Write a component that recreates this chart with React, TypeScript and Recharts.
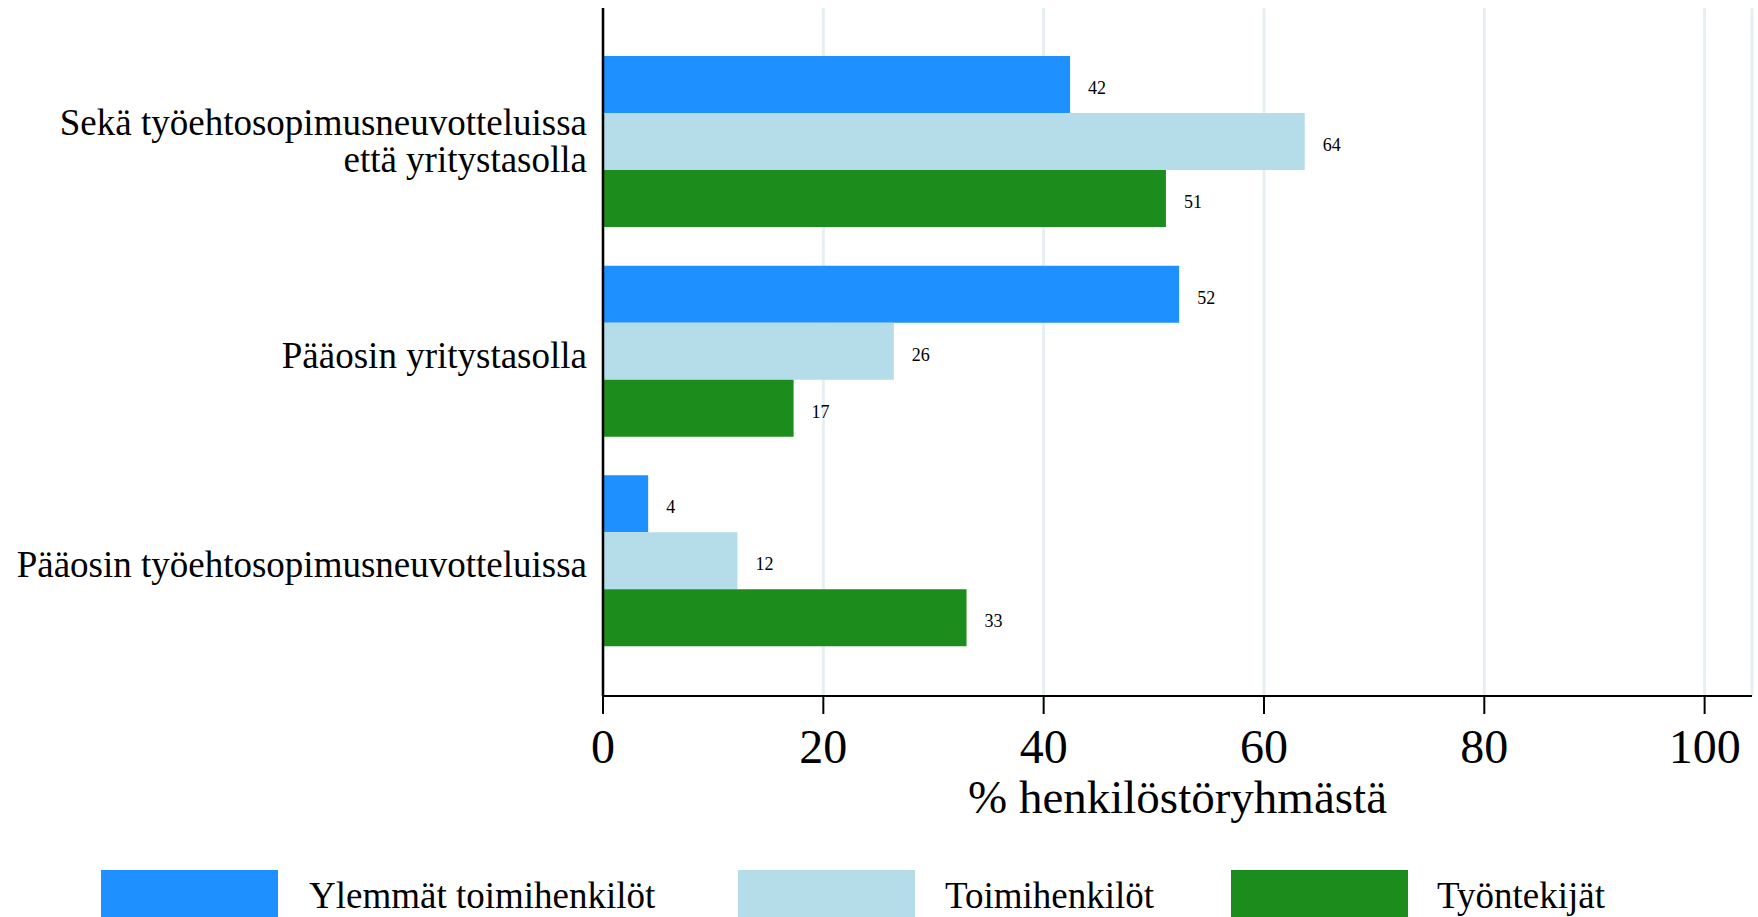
import React from "react";
import {
  BarChart,
  Bar,
  XAxis,
  YAxis,
  CartesianGrid,
  LabelList,
  Label,
} from "recharts";

const categories = [
  "Sekä työehtosopimusneuvotteluissa\nettä yritystasolla",
  "Pääosin yritystasolla",
  "Pääosin työehtosopimusneuvotteluissa",
];
const ylemmat = [42.4, 52.3, 4.1];
const toimihenkilot = [63.7, 26.4, 12.2];
const tyontekijat = [51.1, 17.3, 33.0];
const xTicks = [0, 20, 40, 60, 80, 100];
const axisTitle = "% henkilöstöryhmästä";

const series = [
  { key: "ylemmat", name: "Ylemmät toimihenkilöt", color: "#1e90ff" },
  { key: "toimihenkilot", name: "Toimihenkilöt", color: "#b5dce9" },
  { key: "tyontekijat", name: "Työntekijät", color: "#1c8c1c" },
];

const data = categories.map((name, i) => ({
  name,
  ylemmat: ylemmat[i],
  toimihenkilot: toimihenkilot[i],
  tyontekijat: tyontekijat[i],
}));

const FONT = '"Liberation Serif", "Times New Roman", serif';

function CategoryTick(props: any) {
  const { x, y, payload } = props;
  const lines = String(payload.value).split("\n");
  const lh = 37;
  const base = lines.length > 1 ? 12 : 16;
  const first = y + base - ((lines.length - 1) * lh) / 2;
  return (
    <text x={x} y={first} textAnchor="end" fontSize={37} fontFamily={FONT} fill="#000">
      {lines.map((l, i) => (
        <tspan key={i} x={x} y={first + i * lh}>
          {l}
        </tspan>
      ))}
    </text>
  );
}

function AxisTitle(props: any) {
  const vb = props.viewBox || {};
  return (
    <text
      x={vb.x + vb.width / 2}
      y={vb.y + 117}
      textAnchor="middle"
      fontSize={47}
      fontFamily={FONT}
      fill="#000"
    >
      {axisTitle}
    </text>
  );
}

// legend slots: swatch left edge, text left edge
const legendPos = [
  { swatch: 101, text: 309 },
  { swatch: 738, text: 945 },
  { swatch: 1231, text: 1437 },
];

export default function App() {
  return (
    <div style={{ position: "absolute", left: 0, top: 0, width: 1758, height: 917, background: "#fff" }}>
      <BarChart
        width={1758}
        height={870}
        data={data}
        layout="vertical"
        margin={{ top: 8, right: 6, bottom: 0, left: 0 }}
        barCategoryGap={19}
        barGap={0}
      >
        <CartesianGrid horizontal={false} stroke="#e6eff2" strokeWidth={3} />
        <XAxis
          type="number"
          domain={[0, 104.3]}
          ticks={xTicks}
          allowDataOverflow
          height={174}
          axisLine={{ stroke: "#000", strokeWidth: 2 }}
          tickLine={{ stroke: "#000", strokeWidth: 2 }}
          tickSize={18}
          tickMargin={15}
          tick={{ fontSize: 48, fontFamily: FONT, fill: "#000" }}
        >
          <Label content={<AxisTitle />} />
        </XAxis>
        <YAxis
          type="category"
          dataKey="name"
          width={603}
          axisLine={{ stroke: "#000", strokeWidth: 2.5 }}
          tickLine={false}
          tickSize={0}
          tickMargin={16}
          padding={{ top: 29, bottom: 30 }}
          tick={<CategoryTick />}
          interval={0}
        />
        {series.map((s) => (
          <Bar key={s.key} dataKey={s.key} name={s.name} fill={s.color} isAnimationActive={false}>
            <LabelList
              dataKey={s.key}
              position="right"
              offset={18}
              dy={3}
              formatter={(v: any) => Math.round(Number(v))}
              style={{ fontSize: 18, fontFamily: FONT, fill: "#000" }}
            />
          </Bar>
        ))}
      </BarChart>
      <div style={{ position: "relative", height: 47, fontFamily: FONT }}>
        {series.map((s, i) => (
          <React.Fragment key={s.key}>
            <div
              style={{
                position: "absolute",
                left: legendPos[i].swatch,
                top: 0,
                width: 177,
                height: 47,
                background: s.color,
              }}
            />
            <div
              style={{
                position: "absolute",
                left: legendPos[i].text,
                top: 0,
                height: 47,
                lineHeight: "52px",
                fontSize: 37,
                color: "#000",
                whiteSpace: "nowrap",
              }}
            >
              {s.name}
            </div>
          </React.Fragment>
        ))}
      </div>
    </div>
  );
}
